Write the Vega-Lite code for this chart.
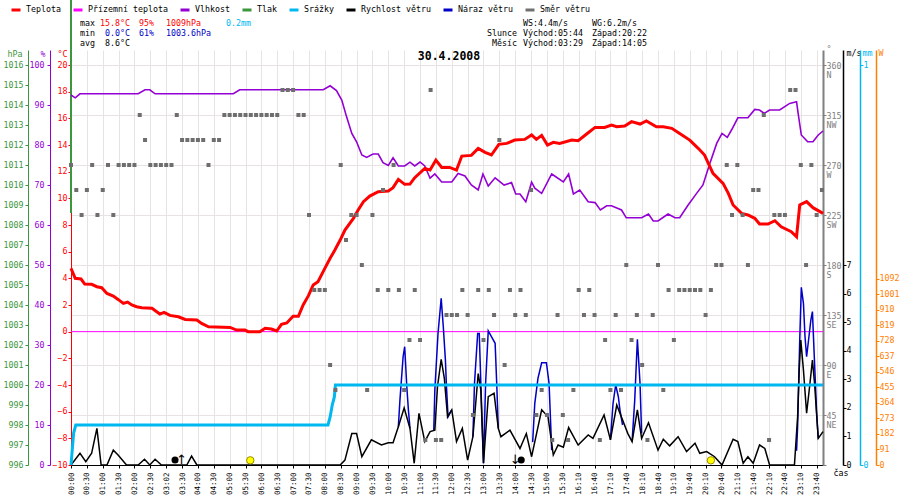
{
  "$schema": "https://vega.github.io/schema/vega-lite/v6.json",
  "description": "Weather station day chart 30.4.2008: temperature, humidity, pressure, rain, wind speed, gusts and wind direction.",
  "width": 752,
  "height": 415,
  "autosize": {"type": "none"},
  "padding": {"left": 71, "top": 50, "right": 77, "bottom": 35},
  "background": "white",
  "config": {
    "view": {"stroke": null},
    "font": "DejaVu Sans Mono",
    "axis": {
      "labelFont": "DejaVu Sans Mono",
      "labelFontSize": 8.3,
      "titleFont": "DejaVu Sans Mono",
      "titleFontSize": 8.3,
      "titleFontWeight": "normal",
      "grid": false,
      "tickSize": 3,
      "labelFlush": false,
      "labelOverlap": false,
      "titleAngle": 0,
      "titleBaseline": "middle"
    },
    "legend": {
      "orient": "none",
      "legendX": -61,
      "legendY": -46,
      "direction": "horizontal",
      "symbolType": "stroke",
      "symbolSize": 81,
      "symbolStrokeWidth": 3,
      "labelFont": "DejaVu Sans Mono",
      "labelFontSize": 8.3,
      "labelColor": "#000000",
      "labelOffset": 4,
      "columnPadding": 6,
      "padding": 0,
      "labelLimit": 0
    }
  },
  "datasets": {
    "ground": [{"k": 0, "t": 0}, {"k": 142.2, "t": 0}],
    "press": [{"k": 0, "p": 1019.3}, {"k": 0, "p": 1008.6}],
    "temp": [
      {"k": 0, "t": 4.75}, {"k": 0.8, "t": 4.0}, {"k": 1.9, "t": 3.95}, {"k": 2.6, "t": 3.57},
      {"k": 3.9, "t": 3.55}, {"k": 4.9, "t": 3.37}, {"k": 5.8, "t": 3.3}, {"k": 6.8, "t": 2.87},
      {"k": 8.0, "t": 2.67}, {"k": 8.9, "t": 2.42}, {"k": 9.9, "t": 2.12}, {"k": 10.7, "t": 2.22},
      {"k": 11.5, "t": 2.0}, {"k": 12.4, "t": 1.87}, {"k": 13.4, "t": 1.8}, {"k": 15.3, "t": 1.75},
      {"k": 16.8, "t": 1.32}, {"k": 17.6, "t": 1.45}, {"k": 18.7, "t": 1.22}, {"k": 20.3, "t": 1.12},
      {"k": 21.6, "t": 0.92}, {"k": 23.8, "t": 0.87}, {"k": 24.7, "t": 0.62}, {"k": 26.0, "t": 0.37},
      {"k": 30.1, "t": 0.32}, {"k": 31.3, "t": 0.12}, {"k": 32.9, "t": 0.12}, {"k": 33.5, "t": 0.0},
      {"k": 35.7, "t": 0.0}, {"k": 36.7, "t": 0.25}, {"k": 37.9, "t": 0.2}, {"k": 38.9, "t": 0.05},
      {"k": 39.8, "t": 0.55}, {"k": 40.8, "t": 0.65}, {"k": 42.0, "t": 1.15}, {"k": 43.0, "t": 1.15},
      {"k": 43.9, "t": 2.0}, {"k": 44.9, "t": 2.7}, {"k": 45.8, "t": 3.5}, {"k": 46.7, "t": 3.75},
      {"k": 48.0, "t": 4.75}, {"k": 49.0, "t": 5.5}, {"k": 49.9, "t": 6.12}, {"k": 50.9, "t": 6.87},
      {"k": 51.8, "t": 7.62}, {"k": 53.4, "t": 8.5}, {"k": 54.3, "t": 9.12}, {"k": 55.3, "t": 9.75},
      {"k": 56.5, "t": 10.17}, {"k": 58.1, "t": 10.5}, {"k": 60.0, "t": 10.55}, {"k": 60.9, "t": 10.8},
      {"k": 61.9, "t": 11.42}, {"k": 63.1, "t": 11.05}, {"k": 64.1, "t": 11.07}, {"k": 65.0, "t": 11.55},
      {"k": 66.9, "t": 12.25}, {"k": 67.9, "t": 12.12}, {"k": 69.0, "t": 12.87}, {"k": 70.1, "t": 12.32},
      {"k": 71.6, "t": 12.32}, {"k": 72.9, "t": 12.12}, {"k": 73.9, "t": 13.17}, {"k": 75.7, "t": 13.22},
      {"k": 77.0, "t": 13.75}, {"k": 78.3, "t": 13.45}, {"k": 79.5, "t": 13.25}, {"k": 80.9, "t": 14.05},
      {"k": 82.4, "t": 14.12}, {"k": 83.9, "t": 14.37}, {"k": 85.8, "t": 14.42}, {"k": 87.1, "t": 14.75},
      {"k": 88.0, "t": 14.42}, {"k": 89.0, "t": 14.72}, {"k": 90.1, "t": 14.0}, {"k": 91.2, "t": 14.2},
      {"k": 92.4, "t": 14.12}, {"k": 94.7, "t": 14.37}, {"k": 95.9, "t": 14.32}, {"k": 97.8, "t": 14.92},
      {"k": 99.1, "t": 15.32}, {"k": 100.9, "t": 15.32}, {"k": 102.2, "t": 15.5}, {"k": 103.2, "t": 15.37},
      {"k": 104.7, "t": 15.42}, {"k": 106.0, "t": 15.75}, {"k": 107.6, "t": 15.57}, {"k": 108.8, "t": 15.8},
      {"k": 110.7, "t": 15.37}, {"k": 112.0, "t": 15.37}, {"k": 113.6, "t": 15.25}, {"k": 115.1, "t": 14.87},
      {"k": 117.0, "t": 14.37}, {"k": 118.6, "t": 13.75}, {"k": 119.8, "t": 13.25}, {"k": 121.4, "t": 11.87},
      {"k": 123.3, "t": 11.12}, {"k": 124.3, "t": 10.37}, {"k": 125.2, "t": 9.5}, {"k": 126.8, "t": 8.87},
      {"k": 128.0, "t": 8.75}, {"k": 129.3, "t": 8.5}, {"k": 130.2, "t": 8.07}, {"k": 131.8, "t": 8.07},
      {"k": 133.1, "t": 8.32}, {"k": 134.3, "t": 7.87}, {"k": 136.2, "t": 7.5}, {"k": 137.2, "t": 7.12},
      {"k": 137.8, "t": 9.5}, {"k": 139.1, "t": 9.75}, {"k": 140.3, "t": 9.3}, {"k": 142.2, "t": 8.87}
    ],
    "hum": [
      {"k": 0, "h": 92.5}, {"k": 0.8, "h": 91.8}, {"k": 1.7, "h": 92.8}, {"k": 12.7, "h": 92.8},
      {"k": 14.0, "h": 93.8}, {"k": 14.9, "h": 93.8}, {"k": 15.9, "h": 92.8}, {"k": 30.7, "h": 92.8},
      {"k": 31.9, "h": 93.8}, {"k": 47.7, "h": 93.8}, {"k": 49.0, "h": 94.8}, {"k": 50.2, "h": 93.6},
      {"k": 51.2, "h": 91.25}, {"k": 52.1, "h": 87.1}, {"k": 53.1, "h": 82.9}, {"k": 54.0, "h": 80.8},
      {"k": 55.0, "h": 77.5}, {"k": 55.9, "h": 76.9}, {"k": 57.1, "h": 77.75}, {"k": 58.1, "h": 77.75},
      {"k": 59.0, "h": 75.6}, {"k": 60.0, "h": 74.9}, {"k": 60.9, "h": 76.8}, {"k": 61.9, "h": 74.75},
      {"k": 63.1, "h": 74.75}, {"k": 64.1, "h": 75.7}, {"k": 65.0, "h": 74.75}, {"k": 66.0, "h": 75.75},
      {"k": 66.9, "h": 74.75}, {"k": 67.9, "h": 71.7}, {"k": 68.8, "h": 72.75}, {"k": 70.1, "h": 70.75},
      {"k": 72.0, "h": 70.75}, {"k": 73.2, "h": 72.9}, {"k": 74.5, "h": 72.25}, {"k": 75.7, "h": 70.0},
      {"k": 77.0, "h": 68.75}, {"k": 77.9, "h": 72.75}, {"k": 78.9, "h": 69.75}, {"k": 80.2, "h": 71.8},
      {"k": 81.9, "h": 70.0}, {"k": 83.3, "h": 70.6}, {"k": 84.1, "h": 67.75}, {"k": 84.9, "h": 67.75},
      {"k": 86.0, "h": 65.8}, {"k": 87.1, "h": 70.7}, {"k": 87.7, "h": 69.2}, {"k": 89.0, "h": 67.9},
      {"k": 90.9, "h": 72.75}, {"k": 93.1, "h": 70.75}, {"k": 94.1, "h": 72.75}, {"k": 95.0, "h": 67.75},
      {"k": 96.2, "h": 68.75}, {"k": 97.8, "h": 65.8}, {"k": 99.1, "h": 65.6}, {"k": 100.1, "h": 63.75},
      {"k": 101.3, "h": 64.8}, {"k": 102.2, "h": 64.8}, {"k": 104.1, "h": 63.75}, {"k": 105.0, "h": 61.8},
      {"k": 107.9, "h": 61.8}, {"k": 109.2, "h": 62.75}, {"k": 110.1, "h": 61.0}, {"k": 111.0, "h": 61.0},
      {"k": 112.9, "h": 62.75}, {"k": 114.2, "h": 61.8}, {"k": 115.1, "h": 61.8}, {"k": 116.7, "h": 65.0},
      {"k": 118.3, "h": 67.9}, {"k": 119.5, "h": 70.0}, {"k": 120.8, "h": 75.4}, {"k": 122.1, "h": 80.4},
      {"k": 123.1, "h": 82.9}, {"k": 124.1, "h": 81.9}, {"k": 124.9, "h": 83.75}, {"k": 126.1, "h": 86.8},
      {"k": 128.0, "h": 86.8}, {"k": 129.3, "h": 88.9}, {"k": 130.2, "h": 88.75}, {"k": 131.1, "h": 87.9},
      {"k": 132.1, "h": 88.75}, {"k": 134.0, "h": 88.75}, {"k": 135.9, "h": 90.4}, {"k": 137.2, "h": 90.8},
      {"k": 137.5, "h": 87.9}, {"k": 138.1, "h": 82.5}, {"k": 139.3, "h": 80.8}, {"k": 140.3, "h": 80.8},
      {"k": 141.3, "h": 82.5}, {"k": 142.2, "h": 83.5}
    ],
    "wind": [
      {"k": 0, "ws": 0}, {"k": 1.7, "ws": 0.41}, {"k": 2.8, "ws": 0.12}, {"k": 3.9, "ws": 0.41},
      {"k": 4.9, "ws": 1.28}, {"k": 5.7, "ws": 0}, {"k": 6.8, "ws": 0}, {"k": 8.0, "ws": 0.52},
      {"k": 8.9, "ws": 0.35}, {"k": 10.5, "ws": 0}, {"k": 12.7, "ws": 0}, {"k": 13.9, "ws": 0.2},
      {"k": 14.9, "ws": 0}, {"k": 15.9, "ws": 0.2}, {"k": 17.1, "ws": 0}, {"k": 21.9, "ws": 0},
      {"k": 22.8, "ws": 0.31}, {"k": 23.8, "ws": 0}, {"k": 50.9, "ws": 0}, {"k": 51.8, "ws": 0.17},
      {"k": 53.1, "ws": 1.1}, {"k": 54.0, "ws": 1.1}, {"k": 55.0, "ws": 0.29}, {"k": 56.8, "ws": 0.88},
      {"k": 58.7, "ws": 0.7}, {"k": 60.0, "ws": 0.78}, {"k": 60.9, "ws": 0.78}, {"k": 61.9, "ws": 1.34},
      {"k": 63.0, "ws": 2.0}, {"k": 64.1, "ws": 1.28}, {"k": 64.9, "ws": 0.06}, {"k": 65.8, "ws": 1.81},
      {"k": 66.9, "ws": 0.82}, {"k": 67.9, "ws": 1.17}, {"k": 68.8, "ws": 1.22}, {"k": 69.3, "ws": 2.74},
      {"k": 70.0, "ws": 3.7}, {"k": 70.6, "ws": 3.03}, {"k": 71.2, "ws": 1.69}, {"k": 72.0, "ws": 1.93},
      {"k": 72.9, "ws": 0.82}, {"k": 74.0, "ws": 1.28}, {"k": 75.0, "ws": 0.17}, {"k": 76.0, "ws": 0.99},
      {"k": 77.0, "ws": 3.2}, {"k": 77.5, "ws": 2.62}, {"k": 78.0, "ws": 0.06}, {"k": 78.9, "ws": 2.39},
      {"k": 80.0, "ws": 2.51}, {"k": 80.8, "ws": 1.28}, {"k": 81.3, "ws": 0.99}, {"k": 83.0, "ws": 1.22},
      {"k": 84.9, "ws": 0.58}, {"k": 86.1, "ws": 1.1}, {"k": 87.1, "ws": 0.29}, {"k": 89.0, "ws": 1.93},
      {"k": 90.2, "ws": 1.69}, {"k": 91.2, "ws": 0.35}, {"k": 92.1, "ws": 0.7}, {"k": 93.1, "ws": 0.62},
      {"k": 94.1, "ws": 1.31}, {"k": 95.9, "ws": 0.7}, {"k": 97.8, "ws": 1.05}, {"k": 98.7, "ws": 0.93},
      {"k": 100.8, "ws": 1.75}, {"k": 102.0, "ws": 0.88}, {"k": 103.2, "ws": 2.1}, {"k": 105.3, "ws": 1.1},
      {"k": 106.1, "ws": 0.82}, {"k": 107.1, "ws": 1.93}, {"k": 107.9, "ws": 0.93}, {"k": 109.2, "ws": 1.48},
      {"k": 111.0, "ws": 0.52}, {"k": 112.0, "ws": 0.9}, {"k": 113.2, "ws": 0.67}, {"k": 114.8, "ws": 0.99},
      {"k": 116.4, "ws": 0.47}, {"k": 118.0, "ws": 0.76}, {"k": 118.9, "ws": 0.41}, {"k": 120.2, "ws": 0.47},
      {"k": 121.7, "ws": 0.29}, {"k": 123.1, "ws": 0}, {"k": 125.2, "ws": 0.9}, {"k": 126.1, "ws": 0.82},
      {"k": 127.1, "ws": 0.06}, {"k": 128.0, "ws": 0.29}, {"k": 129.0, "ws": 0.06}, {"k": 130.2, "ws": 0.7},
      {"k": 131.2, "ws": 0.58}, {"k": 132.1, "ws": 0}, {"k": 136.8, "ws": 0}, {"k": 137.4, "ws": 1.69},
      {"k": 137.7, "ws": 3.33}, {"k": 138.0, "ws": 4.37}, {"k": 138.5, "ws": 3.33}, {"k": 139.1, "ws": 1.81},
      {"k": 139.7, "ws": 2.8}, {"k": 140.2, "ws": 3.67}, {"k": 140.6, "ws": 2.86}, {"k": 141.3, "ws": 0.93},
      {"k": 142.2, "ws": 1.17}
    ],
    "gust": [
      {"seg": 1, "k": 61.9, "wg": 1.34}, {"seg": 1, "k": 62.2, "wg": 2.27}, {"seg": 1, "k": 62.8, "wg": 3.79},
      {"seg": 1, "k": 63.1, "wg": 4.14}, {"seg": 1, "k": 63.5, "wg": 2.74}, {"seg": 1, "k": 63.8, "wg": 1.93},
      {"seg": 1, "k": 64.1, "wg": 1.28},
      {"seg": 2, "k": 68.6, "wg": 1.22}, {"seg": 2, "k": 68.8, "wg": 2.62}, {"seg": 2, "k": 69.4, "wg": 4.6},
      {"seg": 2, "k": 70.0, "wg": 5.83}, {"seg": 2, "k": 70.4, "wg": 4.84}, {"seg": 2, "k": 70.8, "wg": 3.67},
      {"seg": 2, "k": 71.0, "wg": 2.74}, {"seg": 2, "k": 71.3, "wg": 1.69}, {"seg": 2, "k": 72.0, "wg": 1.93},
      {"seg": 3, "k": 76.0, "wg": 0.99}, {"seg": 3, "k": 76.3, "wg": 2.86}, {"seg": 3, "k": 76.9, "wg": 4.6},
      {"seg": 3, "k": 77.2, "wg": 4.6}, {"seg": 3, "k": 77.5, "wg": 2.86}, {"seg": 3, "k": 78.0, "wg": 0.06},
      {"seg": 3, "k": 78.4, "wg": 2.86}, {"seg": 3, "k": 78.9, "wg": 4.69}, {"seg": 3, "k": 79.5, "wg": 4.49},
      {"seg": 3, "k": 80.2, "wg": 4.26}, {"seg": 3, "k": 80.5, "wg": 2.86}, {"seg": 3, "k": 80.8, "wg": 1.28},
      {"seg": 4, "k": 87.3, "wg": 0.8}, {"seg": 4, "k": 87.7, "wg": 2.16}, {"seg": 4, "k": 88.3, "wg": 3.03},
      {"seg": 4, "k": 89.0, "wg": 3.58}, {"seg": 4, "k": 89.9, "wg": 3.58}, {"seg": 4, "k": 90.4, "wg": 2.86},
      {"seg": 4, "k": 90.9, "wg": 0.52},
      {"seg": 5, "k": 102.0, "wg": 0.88}, {"seg": 5, "k": 102.5, "wg": 2.16}, {"seg": 5, "k": 103.0, "wg": 2.8},
      {"seg": 5, "k": 103.5, "wg": 2.39}, {"seg": 5, "k": 103.8, "wg": 1.93}, {"seg": 5, "k": 104.3, "wg": 1.4},
      {"seg": 6, "k": 106.1, "wg": 0.82}, {"seg": 6, "k": 106.6, "wg": 2.27}, {"seg": 6, "k": 107.1, "wg": 4.4},
      {"seg": 6, "k": 107.6, "wg": 2.86}, {"seg": 6, "k": 107.9, "wg": 1.1},
      {"seg": 7, "k": 137.2, "wg": 0.5}, {"seg": 7, "k": 137.4, "wg": 1.34}, {"seg": 7, "k": 137.8, "wg": 4.37},
      {"seg": 7, "k": 138.1, "wg": 6.22}, {"seg": 7, "k": 138.5, "wg": 5.66}, {"seg": 7, "k": 138.8, "wg": 4.49},
      {"seg": 7, "k": 139.1, "wg": 3.79}, {"seg": 7, "k": 139.4, "wg": 4.26}, {"seg": 7, "k": 139.9, "wg": 5.07},
      {"seg": 7, "k": 140.2, "wg": 5.37}, {"seg": 7, "k": 140.5, "wg": 4.03}, {"seg": 7, "k": 141.0, "wg": 1.81},
      {"seg": 7, "k": 141.3, "wg": 0.93}
    ],
    "rain": [
      {"k": 0, "r": 0}, {"k": 0.25, "r": 0.04}, {"k": 0.5, "r": 0.08}, {"k": 0.9, "r": 0.1},
      {"k": 48.6, "r": 0.1}, {"k": 49.0, "r": 0.12}, {"k": 49.4, "r": 0.15}, {"k": 49.8, "r": 0.17},
      {"k": 50.0, "r": 0.2}, {"k": 142.2, "r": 0.2}
    ],
    "dir": [
      {"k": 0, "d": 270}, {"k": 1, "d": 247.5}, {"k": 2, "d": 225}, {"k": 3, "d": 247.5}, {"k": 4, "d": 270},
      {"k": 5, "d": 225}, {"k": 6, "d": 247.5}, {"k": 7, "d": 270}, {"k": 8, "d": 225}, {"k": 9, "d": 270},
      {"k": 10, "d": 270}, {"k": 11, "d": 270}, {"k": 12, "d": 270}, {"k": 13, "d": 315}, {"k": 14, "d": 292.5},
      {"k": 15, "d": 270}, {"k": 16, "d": 270}, {"k": 17, "d": 270}, {"k": 18, "d": 270}, {"k": 19, "d": 270},
      {"k": 20, "d": 315}, {"k": 21, "d": 292.5}, {"k": 22, "d": 292.5}, {"k": 23, "d": 292.5}, {"k": 24, "d": 292.5},
      {"k": 25, "d": 292.5}, {"k": 26, "d": 270}, {"k": 27, "d": 292.5}, {"k": 28, "d": 292.5}, {"k": 29, "d": 315},
      {"k": 30, "d": 315}, {"k": 31, "d": 315}, {"k": 32, "d": 315}, {"k": 33, "d": 315}, {"k": 34, "d": 315},
      {"k": 35, "d": 315}, {"k": 36, "d": 315}, {"k": 37, "d": 315}, {"k": 38, "d": 315}, {"k": 39, "d": 315},
      {"k": 40, "d": 337.5}, {"k": 41, "d": 337.5}, {"k": 42, "d": 337.5}, {"k": 43, "d": 315}, {"k": 44, "d": 315},
      {"k": 45, "d": 225}, {"k": 46, "d": 157.5}, {"k": 47, "d": 157.5}, {"k": 48, "d": 157.5}, {"k": 49, "d": 90},
      {"k": 50, "d": 67.5}, {"k": 51, "d": 270}, {"k": 52, "d": 202.5}, {"k": 53, "d": 225}, {"k": 54, "d": 225},
      {"k": 55, "d": 180}, {"k": 56, "d": 67.5}, {"k": 57, "d": 225}, {"k": 58, "d": 157.5}, {"k": 59, "d": 247.5},
      {"k": 60, "d": 157.5}, {"k": 61, "d": 270}, {"k": 62, "d": 157.5}, {"k": 63, "d": 67.5}, {"k": 64, "d": 112.5},
      {"k": 65, "d": 157.5}, {"k": 66, "d": 112.5}, {"k": 67, "d": 22.5}, {"k": 68, "d": 337.5}, {"k": 69, "d": 22.5},
      {"k": 70, "d": 22.5}, {"k": 71, "d": 135}, {"k": 72, "d": 135}, {"k": 73, "d": 135}, {"k": 74, "d": 157.5},
      {"k": 75, "d": 135}, {"k": 76, "d": 45}, {"k": 77, "d": 157.5}, {"k": 78, "d": 112.5}, {"k": 79, "d": 157.5},
      {"k": 80, "d": 135}, {"k": 81, "d": 292.5}, {"k": 82, "d": 90}, {"k": 83, "d": 157.5}, {"k": 84, "d": 135},
      {"k": 85, "d": 157.5}, {"k": 86, "d": 135}, {"k": 87, "d": 247.5}, {"k": 88, "d": 45}, {"k": 89, "d": 67.5},
      {"k": 90, "d": 45}, {"k": 91, "d": 22.5}, {"k": 92, "d": 135}, {"k": 93, "d": 45}, {"k": 94, "d": 22.5},
      {"k": 95, "d": 67.5}, {"k": 96, "d": 157.5}, {"k": 97, "d": 135}, {"k": 98, "d": 157.5}, {"k": 99, "d": 135},
      {"k": 100, "d": 22.5}, {"k": 101, "d": 112.5}, {"k": 102, "d": 67.5}, {"k": 103, "d": 135}, {"k": 104, "d": 67.5},
      {"k": 105, "d": 180}, {"k": 106, "d": 112.5}, {"k": 107, "d": 135}, {"k": 108, "d": 90}, {"k": 109, "d": 22.5},
      {"k": 110, "d": 135}, {"k": 111, "d": 180}, {"k": 112, "d": 67.5}, {"k": 113, "d": 157.5}, {"k": 114, "d": 112.5},
      {"k": 115, "d": 157.5}, {"k": 116, "d": 157.5}, {"k": 117, "d": 157.5}, {"k": 118, "d": 157.5}, {"k": 119, "d": 157.5},
      {"k": 120, "d": 135}, {"k": 121, "d": 157.5}, {"k": 122, "d": 180}, {"k": 123, "d": 180}, {"k": 124, "d": 270},
      {"k": 125, "d": 225}, {"k": 126, "d": 270}, {"k": 127, "d": 225}, {"k": 128, "d": 180}, {"k": 129, "d": 247.5},
      {"k": 130, "d": 247.5}, {"k": 131, "d": 315}, {"k": 132, "d": 22.5}, {"k": 133, "d": 225}, {"k": 134, "d": 225},
      {"k": 135, "d": 225}, {"k": 136, "d": 337.5}, {"k": 137, "d": 337.5}, {"k": 138, "d": 270}, {"k": 139, "d": 180},
      {"k": 140, "d": 270}, {"k": 141, "d": 225}, {"k": 142, "d": 247.5}
    ],
    "events": [
      {"k": 20.9, "body": "moon", "event": "rise"},
      {"k": 33.9, "body": "sun", "event": "rise"},
      {"k": 84.0, "body": "moon", "event": "set"},
      {"k": 121.0, "body": "sun", "event": "set"}
    ],
    "info": [
      {"line": 1, "col": "label", "text": "max"},
      {"line": 2, "col": "label", "text": "min"},
      {"line": 3, "col": "label", "text": "avg"},
      {"line": 1, "col": "temp", "text": "15.8°C"},
      {"line": 2, "col": "temp", "text": "0.0°C"},
      {"line": 3, "col": "temp", "text": "8.6°C"},
      {"line": 1, "col": "hum", "text": "95%"},
      {"line": 2, "col": "hum", "text": "61%"},
      {"line": 1, "col": "press", "text": "1009hPa"},
      {"line": 2, "col": "press", "text": "1003.6hPa"},
      {"line": 1, "col": "rain", "text": "0.2mm"},
      {"line": 2, "col": "name", "text": "Slunce"},
      {"line": 3, "col": "name", "text": "Měsíc"},
      {"line": 1, "col": "c1", "text": "WS:4.4m/s"},
      {"line": 2, "col": "c1", "text": "Východ:05:44"},
      {"line": 3, "col": "c1", "text": "Východ:03:29"},
      {"line": 1, "col": "c2", "text": "WG:6.2m/s"},
      {"line": 2, "col": "c2", "text": "Západ:20:22"},
      {"line": 3, "col": "c2", "text": "Západ:14:05"}
    ]
  },
  "layer": [
    {
      "data": {"name": "ground"},
      "mark": {"type": "line", "strokeWidth": 1},
      "encoding": {
        "x": {
          "field": "k",
          "type": "quantitative",
          "scale": {"domain": [0, 142.2], "nice": false, "zero": false},
          "axis": {
            "values": [0, 3, 6, 9, 12, 15, 18, 21, 24, 27, 30, 33, 36, 39, 42, 45, 48, 51, 54, 57, 60, 63, 66, 69, 72, 75, 78, 81, 84, 87, 90, 93, 96, 99, 102, 105, 108, 111, 114, 117, 120, 123, 126, 129, 132, 135, 138, 141],
            "tickCount": 60,
            "labelExpr": "['00:00','00:30','01:00','01:30','02:00','02:30','03:02','03:30','04:00','04:30','05:00','05:30','06:00','06:30','07:00','07:30','08:00','08:30','09:00','09:30','10:00','10:30','11:00','11:30','12:00','12:30','13:00','13:30','14:00','14:30','15:00','15:30','16:10','16:40','17:10','17:40','18:10','18:40','19:10','19:40','20:10','20:40','21:10','21:40','22:10','22:40','23:10','23:40'][round(datum.value / 3)]",
            "labelAngle": 270,
            "labelFontSize": 7.5,
            "labelColor": "#000000",
            "labelPadding": 4,
            "labelOverlap": false,
            "labelBound": false,
            "labelFlush": false,
            "tickColor": "#000000",
            "domainColor": "#000000",
            "grid": true,
            "gridColor": "#e8e3e3",
            "title": "čas",
            "titleColor": "#000000",
            "titleX": 762,
            "titleY": 8,
            "titleAlign": "left"
          }
        },
        "y": {"field": "t", "type": "quantitative", "scale": {"domain": [-10, 21.125], "nice": false, "zero": false}, "axis": null},
        "color": {
          "datum": "Přízemní teplota",
          "scale": {
            "domain": ["Teplota", "Přízemní teplota", "Vlhkost", "Tlak", "Srážky", "Rychlost větru", "Náraz větru", "Směr větru"],
            "range": ["#ff0000", "#ff00ff", "#9400d3", "#3c963c", "#00b8f0", "#000000", "#0000c8", "#707070"]
          },
          "legend": {"title": null}
        }
      }
    },
    {
      "data": {"name": "press"},
      "mark": {"type": "line", "strokeWidth": 2, "clip": false},
      "encoding": {
        "x": {"field": "k", "type": "quantitative"},
        "y": {
          "field": "p", "type": "quantitative",
          "scale": {"domain": [996, 1016.75], "nice": false, "zero": false},
          "axis": {
            "orient": "left", "offset": 43, "format": "d", "tickCount": 30,
            "values": [996, 997, 998, 999, 1000, 1001, 1002, 1003, 1004, 1005, 1006, 1007, 1008, 1009, 1010, 1011, 1012, 1013, 1014, 1015, 1016],
            "domainColor": "#3c963c", "tickColor": "#3c963c", "labelColor": "#3c963c", "labelPadding": 2,
            "title": "hPa", "titleColor": "#3c963c", "titleX": -6, "titleY": 4, "titleAlign": "right"
          }
        },
        "color": {"datum": "Tlak"}
      }
    },
    {
      "data": {"name": "hum"},
      "mark": {"type": "line", "strokeWidth": 1.6},
      "encoding": {
        "x": {"field": "k", "type": "quantitative"},
        "y": {
          "field": "h", "type": "quantitative",
          "scale": {"domain": [0, 103.75], "nice": false, "zero": false},
          "axis": {
            "orient": "left", "offset": 21, "format": "d", "tickCount": 20,
            "values": [0, 10, 20, 30, 40, 50, 60, 70, 80, 90, 100],
            "domainColor": "#9400d3", "tickColor": "#9400d3", "labelColor": "#9400d3", "labelPadding": 3,
            "title": "%", "titleColor": "#9400d3", "titleX": -5, "titleY": 4, "titleAlign": "right"
          }
        },
        "color": {"datum": "Vlhkost"}
      }
    },
    {
      "data": {"name": "temp"},
      "mark": {"type": "line", "strokeWidth": 3},
      "encoding": {
        "x": {"field": "k", "type": "quantitative"},
        "y": {
          "field": "t", "type": "quantitative",
          "scale": {"domain": [-10, 21.125], "nice": false, "zero": false},
          "axis": {
            "orient": "left", "offset": 0, "format": "d", "tickCount": 20,
            "values": [-10, -8, -6, -4, -2, 0, 2, 4, 6, 8, 10, 12, 14, 16, 18, 20],
            "domainColor": "#ff0000", "tickColor": "#ff0000", "labelColor": "#ff0000", "labelPadding": 1,
            "title": "°C", "titleColor": "#ff0000", "titleX": -4, "titleY": 4, "titleAlign": "right"
          }
        },
        "color": {"datum": "Teplota"}
      }
    },
    {
      "data": {"name": "gust"},
      "mark": {"type": "line", "strokeWidth": 1.5},
      "encoding": {
        "x": {"field": "k", "type": "quantitative"},
        "y": {"field": "wg", "type": "quantitative", "scale": {"domain": [0, 14.525], "nice": false, "zero": false}, "axis": null},
        "detail": {"field": "seg", "type": "nominal"},
        "color": {"datum": "Náraz větru"}
      }
    },
    {
      "data": {"name": "wind"},
      "mark": {"type": "line", "strokeWidth": 1.5},
      "encoding": {
        "x": {"field": "k", "type": "quantitative"},
        "y": {
          "field": "ws", "type": "quantitative",
          "scale": {"domain": [0, 14.525], "nice": false, "zero": false},
          "axis": {
            "orient": "right", "offset": 20, "format": "d", "tickCount": 20,
            "values": [0, 1, 2, 3, 4, 5, 6, 7],
            "domainColor": "#000000", "domainWidth": 1.5, "tickColor": "#000000", "labelColor": "#000000", "labelPadding": 0,
            "title": "m/s", "titleColor": "#000000", "titleX": 3, "titleY": 3, "titleAlign": "left"
          }
        },
        "color": {"datum": "Rychlost větru"}
      }
    },
    {
      "data": {"name": "rain"},
      "mark": {"type": "line", "strokeWidth": 3},
      "encoding": {
        "x": {"field": "k", "type": "quantitative"},
        "y": {
          "field": "r", "type": "quantitative",
          "scale": {"domain": [0, 1.0375], "nice": false, "zero": false},
          "axis": {
            "orient": "right", "offset": 37, "format": "d",
            "values": [0, 1],
            "domainColor": "#00b8f0", "domainWidth": 1.5, "tickColor": "#00b8f0", "labelColor": "#00b8f0", "labelPadding": 0,
            "title": "mm", "titleColor": "#00b8f0", "titleX": 2, "titleY": 3, "titleAlign": "left"
          }
        },
        "color": {"datum": "Srážky"}
      }
    },
    {
      "data": {"name": "dir"},
      "mark": {"type": "point", "shape": "square", "filled": true, "size": 16, "color": "#6e6e6e", "opacity": 1},
      "encoding": {
        "x": {"field": "k", "type": "quantitative"},
        "y": {
          "field": "d", "type": "quantitative",
          "scale": {"domain": [0, 373.5], "nice": false, "zero": false},
          "axis": {
            "orient": "right", "offset": 0, "tickCount": 20,
            "values": [0, 45, 90, 135, 180, 225, 270, 315, 360],
            "labelExpr": "datum.value == 0 ? '' : [datum.label, ['', 'NE', '\u00a0E', 'SE', '\u00a0S', 'SW', '\u00a0W', 'NW', '\u00a0N'][round(datum.value / 45)]]",
            "labelBaseline": "top", "labelOffset": -4, "labelLineHeight": 9,
            "domainColor": "#808080", "domainWidth": 2, "tickColor": "#808080", "labelColor": "#808080", "labelPadding": 0,
            "grid": true, "gridColor": "#e8e3e3",
            "title": "°", "titleColor": "#808080", "titleX": 3, "titleY": -1, "titleAlign": "left"
          }
        }
      }
    },
    {
      "data": {"values": [{}]},
      "mark": {"type": "rule", "opacity": 0},
      "encoding": {
        "y": {
          "datum": 0, "type": "quantitative",
          "scale": {"domain": [0, 2436], "nice": false, "zero": false},
          "axis": {
            "orient": "right", "offset": 53, "format": "d", "tickCount": 20,
            "values": [0, 91, 182, 273, 364, 455, 546, 637, 728, 819, 910, 1001, 1092],
            "domainColor": "#ff8000", "domainWidth": 1.5, "tickColor": "#ff8000", "labelColor": "#ff8000", "labelPadding": 0,
            "title": "W", "titleColor": "#ff8000", "titleX": 2, "titleY": 3, "titleAlign": "left"
          }
        }
      }
    },
    {
      "data": {"name": "events"},
      "transform": [{"filter": "datum.body === 'sun'"}],
      "mark": {"type": "point", "shape": "circle", "filled": true, "size": 55, "fill": "#ffff00", "stroke": "#9c8a00", "strokeWidth": 1, "opacity": 1},
      "encoding": {
        "x": {"field": "k", "type": "quantitative"},
        "y": {"datum": -9.65, "type": "quantitative", "scale": {"domain": [-10, 21.125], "nice": false, "zero": false}, "axis": null}
      }
    },
    {
      "data": {"name": "events"},
      "transform": [{"filter": "datum.body === 'moon' && datum.event === 'rise'"}],
      "mark": {"type": "point", "shape": "circle", "filled": true, "size": 50, "color": "#000000", "opacity": 1, "xOffset": -6.5},
      "encoding": {
        "x": {"field": "k", "type": "quantitative"},
        "y": {"datum": -9.62, "type": "quantitative", "scale": {"domain": [-10, 21.125], "nice": false, "zero": false}, "axis": null}
      }
    },
    {
      "data": {"name": "events"},
      "transform": [{"filter": "datum.body === 'moon' && datum.event === 'set'"}],
      "mark": {"type": "point", "shape": "circle", "filled": true, "size": 50, "color": "#000000", "opacity": 1, "xOffset": 6},
      "encoding": {
        "x": {"field": "k", "type": "quantitative"},
        "y": {"datum": -9.62, "type": "quantitative", "scale": {"domain": [-10, 21.125], "nice": false, "zero": false}, "axis": null}
      }
    },
    {
      "data": {"name": "events"},
      "transform": [{"filter": "datum.body === 'moon'"}],
      "mark": {"type": "text", "font": "DejaVu Sans", "fontSize": 13, "baseline": "alphabetic", "align": "center", "color": "#000000"},
      "encoding": {
        "x": {"field": "k", "type": "quantitative"},
        "y": {"datum": -9.95, "type": "quantitative", "scale": {"domain": [-10, 21.125], "nice": false, "zero": false}, "axis": null},
        "text": {"condition": {"test": "datum.event === 'rise'", "value": "↑"}, "value": "↓"}
      }
    },
    {
      "data": {"values": [{"text": "30.4.2008"}]},
      "mark": {"type": "text", "font": "DejaVu Sans Mono", "fontSize": 11.5, "fontWeight": "bold", "align": "center", "baseline": "middle", "color": "#000000"},
      "encoding": {
        "x": {"datum": 71.48, "type": "quantitative"},
        "y": {"datum": 20.6, "type": "quantitative", "scale": {"domain": [-10, 21.125], "nice": false, "zero": false}, "axis": null},
        "text": {"field": "text"}
      }
    },
    {
      "data": {"name": "info"},
      "transform": [{"filter": "datum.col === 'label'"}],
      "mark": {"type": "text", "fontSize": 8.3, "align": "left", "baseline": "middle", "color": "#000000"},
      "encoding": {
        "x": {"datum": 1.7, "type": "quantitative"},
        "y": {"field": "line", "type": "ordinal", "scale": {"type": "point", "domain": [1, 2, 3], "range": [-26, -6], "padding": 0}, "axis": null},
        "text": {"field": "text"}
      }
    },
    {
      "data": {"name": "info"},
      "transform": [{"filter": "datum.col === 'temp'"}],
      "mark": {"type": "text", "fontSize": 8.3, "align": "right", "baseline": "middle"},
      "encoding": {
        "x": {"datum": 11.16, "type": "quantitative"},
        "y": {"field": "line", "type": "ordinal", "scale": {"type": "point", "domain": [1, 2, 3], "range": [-26, -6], "padding": 0}, "axis": null},
        "text": {"field": "text"},
        "color": {"condition": [{"test": "datum.line === 1", "value": "#ff0000"}, {"test": "datum.line === 2", "value": "#0000c8"}], "value": "#000000"}
      }
    },
    {
      "data": {"name": "info"},
      "transform": [{"filter": "datum.col === 'hum'"}],
      "mark": {"type": "text", "fontSize": 8.3, "align": "left", "baseline": "middle"},
      "encoding": {
        "x": {"datum": 12.86, "type": "quantitative"},
        "y": {"field": "line", "type": "ordinal", "scale": {"type": "point", "domain": [1, 2, 3], "range": [-26, -6], "padding": 0}, "axis": null},
        "text": {"field": "text"},
        "color": {"condition": [{"test": "datum.line === 1", "value": "#ff0000"}, {"test": "datum.line === 2", "value": "#0000c8"}], "value": "#000000"}
      }
    },
    {
      "data": {"name": "info"},
      "transform": [{"filter": "datum.col === 'press'"}],
      "mark": {"type": "text", "fontSize": 8.3, "align": "left", "baseline": "middle"},
      "encoding": {
        "x": {"datum": 17.97, "type": "quantitative"},
        "y": {"field": "line", "type": "ordinal", "scale": {"type": "point", "domain": [1, 2, 3], "range": [-26, -6], "padding": 0}, "axis": null},
        "text": {"field": "text"},
        "color": {"condition": [{"test": "datum.line === 1", "value": "#ff0000"}, {"test": "datum.line === 2", "value": "#0000c8"}], "value": "#000000"}
      }
    },
    {
      "data": {"name": "info"},
      "transform": [{"filter": "datum.col === 'rain'"}],
      "mark": {"type": "text", "fontSize": 8.3, "align": "left", "baseline": "middle", "color": "#00b8f0"},
      "encoding": {
        "x": {"datum": 29.31, "type": "quantitative"},
        "y": {"field": "line", "type": "ordinal", "scale": {"type": "point", "domain": [1, 2, 3], "range": [-26, -6], "padding": 0}, "axis": null},
        "text": {"field": "text"}
      }
    },
    {
      "data": {"name": "info"},
      "transform": [{"filter": "datum.col === 'name'"}],
      "mark": {"type": "text", "fontSize": 8.3, "align": "right", "baseline": "middle", "color": "#000000"},
      "encoding": {
        "x": {"datum": 84.34, "type": "quantitative"},
        "y": {"field": "line", "type": "ordinal", "scale": {"type": "point", "domain": [1, 2, 3], "range": [-26, -6], "padding": 0}, "axis": null},
        "text": {"field": "text"}
      }
    },
    {
      "data": {"name": "info"},
      "transform": [{"filter": "datum.col === 'c1'"}],
      "mark": {"type": "text", "fontSize": 8.3, "align": "left", "baseline": "middle", "color": "#000000"},
      "encoding": {
        "x": {"datum": 85.48, "type": "quantitative"},
        "y": {"field": "line", "type": "ordinal", "scale": {"type": "point", "domain": [1, 2, 3], "range": [-26, -6], "padding": 0}, "axis": null},
        "text": {"field": "text"}
      }
    },
    {
      "data": {"name": "info"},
      "transform": [{"filter": "datum.col === 'c2'"}],
      "mark": {"type": "text", "fontSize": 8.3, "align": "left", "baseline": "middle", "color": "#000000"},
      "encoding": {
        "x": {"datum": 98.52, "type": "quantitative"},
        "y": {"field": "line", "type": "ordinal", "scale": {"type": "point", "domain": [1, 2, 3], "range": [-26, -6], "padding": 0}, "axis": null},
        "text": {"field": "text"}
      }
    }
  ],
  "resolve": {"scale": {"y": "independent"}, "axis": {"y": "independent"}}
}
